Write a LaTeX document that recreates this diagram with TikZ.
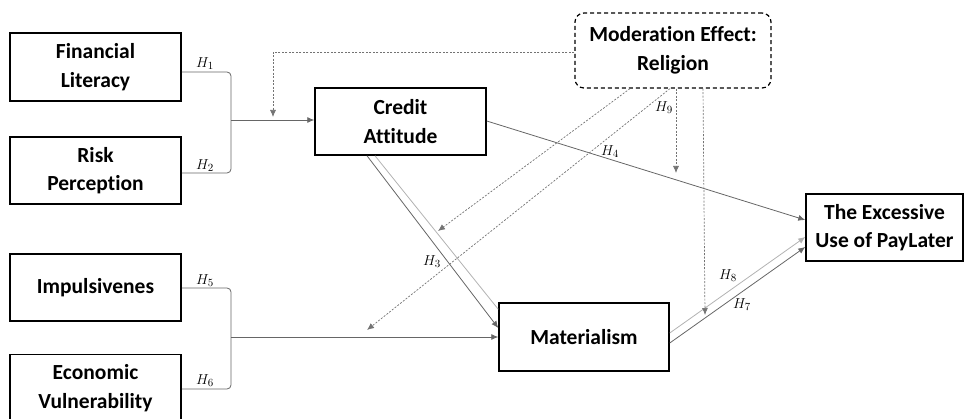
\documentclass[tikz,border=0pt]{standalone}
\usepackage{fontspec}
\setmainfont{Carlito}[Ligatures=NoCommon]
\usetikzlibrary{arrows.meta,calc}

\begin{document}
\begin{tikzpicture}[x=1pt, y=-1pt]
            \tikzstyle{construct}=[draw,line width=1.5pt,align=center,inner sep=0pt,font=\bfseries\fontsize{21.5}{28.5}\selectfont]
            \tikzstyle{moderator}=[construct,dashed,rounded corners=9pt,line width=1.2pt,dash pattern=on 4pt off 3pt]
            \tikzstyle{link}=[draw=black!60,line width=0.8pt]
            \tikzstyle{faint}=[draw=black!30,line width=0.8pt]
            \tikzstyle{modline}=[draw=black!55,line width=0.7pt,dash pattern=on 2pt off 1.5pt]
            \tikzstyle{hyp}=[inner sep=0pt,font=\fontsize{15}{17}\selectfont]
            \tikzstyle{tip}=[-{Latex[length=7pt,width=6pt]}]

            \useasboundingbox (0,0) rectangle (964,419);

            \node[construct,minimum width=171,minimum height=68] (B_1) at (95.5,67)  {Financial\\Literacy};
            \node[construct,minimum width=171,minimum height=67] (B_2) at (95.5,170.5)  {Risk\\Perception};
            \node[construct,minimum width=171,minimum height=67] (B_3) at (95.5,287.5)  {Impulsivenes};
            \node[construct,minimum width=171,minimum height=67] (B_4) at (95.5,388)  {Economic\\Vulnerability};
            \node[construct,minimum width=171,minimum height=67] (B_5) at (400.5,121.5)  {Credit\\Attitude};
            \node[construct,minimum width=170,minimum height=68] (B_6) at (584,337)  {Materialism};
            \node[construct,minimum width=157,minimum height=67] (B_7) at (884.5,227.5)  {The Excessive\\Use of PayLater};
            \node[moderator,minimum width=196,minimum height=75] (M) at (673,50.5)  {Moderation Effect:\\Religion};

            \coordinate (J_1) at (231,120);
            \coordinate (J_2) at (231,337);
            \coordinate (T_1) at (273,117);
            \coordinate (T_2) at (438,231);
            \coordinate (T_3) at (367,330);
            \coordinate (T_4) at (676,173);
            \coordinate (T_5) at (705,315);

            \draw[link,rounded corners=4pt] ([yshift=-5pt]B_1.east) -| (J_1) |- ([yshift=-2.5pt]B_2.east);
            \draw[link,tip] (J_1) -- (B_5.west |- J_1);
            \draw[link,rounded corners=4pt] ([yshift=-0.5pt]B_3.east) -| (J_2) |- ([yshift=-1pt]B_4.east);
            \draw[link,tip] (J_2) -- (B_6.west |- J_2);
            \draw[link,tip] ([xshift=-33.5pt]B_5.south) -- ([yshift=9pt]B_6.west);
            \draw[faint] ([xshift=-25.5pt]B_5.south) -- ([yshift=-7pt]B_6.north west);
            \draw[link,tip] ([yshift=0.5pt]B_5.east) -- ([yshift=7.5pt]B_7.west);
            \draw[link,tip] ([yshift=-6pt]B_6.east) -- ([yshift=-19.5pt]B_7.west);
            \draw[faint,tip] ([yshift=4pt]B_6.east) -- ([yshift=-9.5pt]B_7.west);

            \draw[modline,tip] ([yshift=-1.5pt]M.west) -| (T_1);
            \draw[modline,tip] ([xshift=-43pt]M.south) -- (T_2);
            \draw[modline,tip] ([xshift=-3pt]M.south) -- (T_3);
            \draw[modline,tip] ([xshift=3pt]M.south) -- (T_4);
            \draw[modline,tip] ([xshift=30pt]M.south) -- (T_5);

            \node[hyp] (H_1) at (205,64) {$H_1$};
            \node[hyp] (H_2) at (205,166) {$H_2$};
            \node[hyp] (H_5) at (205,281) {$H_5$};
            \node[hyp] (H_6) at (205,381) {$H_6$};
            \node[hyp] (H_3) at (432,262) {$H_3$};
            \node[hyp] (H_4) at (610,152) {$H_4$};
            \node[hyp] (H_9) at (664,108) {$H_9$};
            \node[hyp] (H_8) at (728,276) {$H_8$};
            \node[hyp] (H_7) at (742,305) {$H_7$};
        \end{tikzpicture}
\end{document}
